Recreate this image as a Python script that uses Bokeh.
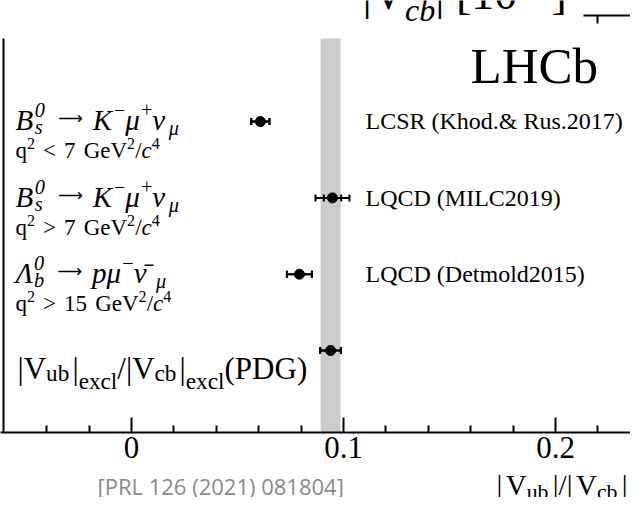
from bokeh.plotting import figure
from bokeh.layouts import column
from bokeh.models import (Range1d, FixedTicker, Label, BoxAnnotation,
                          Whisker, TeeHead, ColumnDataSource)
from bokeh.embed import file_html
from bokeh.resources import INLINE

# ---------------- data ----------------
rows = [4, 3, 2, 1]
ratio = [0.0608, 0.0948, 0.0792, 0.0939]
err_total = [0.0043, 0.0080, 0.0059, 0.0049]
err_stat = [0.0043, 0.0041, 0.0059, 0.0049]
theory = ["LCSR (Khod.& Rus.2017)", "LQCD (MILC2019)", "LQCD (Detmold2015)"]
q2_cut = ["<", ">", ">"]
q2_val = ["7", "7", "15"]
pdg_low = 0.0892
pdg_high = 0.0986
x_ticks = [0, 0.1, 0.2]
x_tick_labels = ["0", "0.1", "0.2"]
x_minor = [-0.04, -0.02, 0.02, 0.04, 0.06, 0.08, 0.12, 0.14, 0.16, 0.18, 0.22]

# ---------------- layout helpers (pixel <-> data) ----------------
X0, SX = 131.0, 2120.0       # px of x=0, px per unit
Y1, SY = 350.0, 76.3         # px of row 1, px per row
FRAME_BOTTOM = 432
MAIN_H = 472
TOTAL_H = 497
WIDTH = 630


def xd(px):
    return (px - X0) / SX


def yd(py):
    return 1 + (Y1 - py) / SY


SERIF = "Liberation Serif"
W = {' ': 250, '(': 333, ')': 333, '.': 250, '/': 278, '<': 564, '>': 564, '&': 778,
     '|': 200, '[': 333, ']': 333, '\u2212': 564, '+': 564, '-': 333,
     'A': 722, 'B': 667, 'C': 667, 'D': 722, 'E': 611, 'G': 722, 'H': 722, 'I': 333,
     'K': 722, 'L': 611, 'M': 889, 'P': 556, 'Q': 722, 'R': 667, 'S': 556, 'V': 722,
     'a': 444, 'b': 500, 'c': 444, 'd': 500, 'e': 444, 'h': 500, 'i': 278, 'k': 500,
     'l': 278, 'm': 778, 'n': 500, 'o': 500, 'p': 500, 'q': 500, 'r': 333, 's': 389,
     't': 278, 'u': 500, 'v': 500, 'x': 500, '\u03bc': 540, '\u03bd': 470, '\u039b': 640,
     '\u0304': 0}
for d in "0123456789":
    W[d] = 500

ASC = {SERIF: 0.3375, "Open Sans": 0.388, "DejaVu Sans": 0.36}


def tw(s):
    return sum(W.get(ch, 500) for ch in s) / 1000.0


class Canvas:
    def __init__(self, fig, fx, fy):
        self.fig, self.fx, self.fy = fig, fx, fy

    def put(self, x_px, base_px, text, size, italic=False, color="black", font=SERIF):
        cy = base_px - ASC.get(font, 0.34) * size
        self.fig.add_layout(Label(x=self.fx(x_px), y=self.fy(cy), text=text, text_font=font,
                                  text_font_size=f"{size:.1f}px",
                                  text_font_style="italic" if italic else "normal",
                                  text_color=color, text_baseline="middle", text_align="left"))

    def rich(self, parts, x_px, base_px, size, sub_ratio=0.7):
        x = x_px
        s2 = size * sub_ratio
        for part in parts:
            kind = part[0]
            if kind == "gap":
                x += part[1] * size
                continue
            text = part[1]
            it = part[2] if len(part) > 2 else False
            if kind == "n":
                self.put(x, base_px, text, size, it)
                x += tw(text) * size
            elif kind == "arrow":
                self.put(x, base_px - 0.17 * size, text, size * 0.6, False, font="DejaVu Sans")
                x += 1.0 * size
            elif kind == "sup":
                self.put(x, base_px - 0.42 * size, text, s2, it)
                x += tw(text) * s2
            elif kind == "sub":
                dy = part[3] if len(part) > 3 else 0.2
                self.put(x, base_px + dy * size, text, s2, it)
                x += tw(text) * s2
            elif kind == "ss":
                sup, sub = text
                self.put(x, base_px - 0.45 * size, sup, s2, it)
                self.put(x, base_px + 0.14 * size, sub, s2, it)
                x += max(tw(sup), tw(sub)) * s2
        return x


# ---------------- main figure ----------------
p = figure(width=WIDTH, height=MAIN_H, output_backend="svg", toolbar_location=None,
           x_range=Range1d(xd(0), xd(WIDTH)), y_range=Range1d(yd(FRAME_BOTTOM), yd(0)),
           min_border_left=0, min_border_right=0, min_border_top=0,
           min_border_bottom=MAIN_H - FRAME_BOTTOM)
p.outline_line_color = None
p.grid.visible = False
p.yaxis.visible = False
p.background_fill_color = "white"
p.border_fill_color = "white"

ax = p.xaxis[0]
ax.ticker = FixedTicker(ticks=x_ticks, minor_ticks=x_minor)
ax.major_label_overrides = {t: l for t, l in zip(x_ticks, x_tick_labels)}
ax.axis_line_width = 2
ax.major_tick_line_width = 2
ax.minor_tick_line_width = 2
ax.major_tick_in = 15
ax.major_tick_out = 0
ax.minor_tick_in = 7
ax.minor_tick_out = 0
ax.major_label_text_font = SERIF
ax.major_label_text_font_size = "31px"
ax.major_label_standoff = 4
ax.major_label_text_color = "black"

# PDG band and left frame line
p.add_layout(BoxAnnotation(left=pdg_low, right=pdg_high, top=yd(38), fill_color="#cbcbcb",
                           fill_alpha=1.0, line_color=None, level="underlay"))
p.add_layout(BoxAnnotation(left=xd(2), right=xd(4), top=yd(38), bottom=yd(FRAME_BOTTOM),
                           fill_color="black", fill_alpha=1.0, line_color=None))
# axis of the (cut) panel above
p.add_layout(BoxAnnotation(left=xd(583), right=xd(640), top=yd(14), bottom=yd(16),
                           fill_color="black", fill_alpha=1.0, line_color=None))
p.add_layout(BoxAnnotation(left=xd(596), right=xd(598), top=yd(15), bottom=yd(23),
                           fill_color="black", fill_alpha=1.0, line_color=None))

# data
src = ColumnDataSource(dict(y=rows, x=ratio,
                            lo_t=[v - e for v, e in zip(ratio, err_total)],
                            hi_t=[v + e for v, e in zip(ratio, err_total)],
                            lo_s=[v - e for v, e in zip(ratio, err_stat)],
                            hi_s=[v + e for v, e in zip(ratio, err_stat)]))
for lo, hi in (("lo_t", "hi_t"), ("lo_s", "hi_s")):
    p.add_layout(Whisker(source=src, base="y", lower=lo, upper=hi, dimension="width",
                         line_color="black", line_width=2,
                         lower_head=TeeHead(size=7, line_width=2, line_color="black"),
                         upper_head=TeeHead(size=7, line_width=2, line_color="black")))
p.scatter(x="x", y="y", source=src, size=10, color="black")

# ---------------- texts in main figure ----------------
cm = Canvas(p, xd, yd)
row_px = [121, 198, 274, 350]
MU, NU, LAM, ARR = "\u03bc", "\u03bd", "\u039b", "\u27f6"
decay_parts = [
    [("n", "B", True), ("ss", ("0", "s"), True), ("gap", 0.45), ("arrow", ARR), ("gap", 0.2),
     ("n", "K", True), ("sup", "\u2212"), ("n", MU, True), ("sup", "+"), ("n", NU, True),
     ("gap", 0.1), ("sub", MU, True)],
    [("n", "B", True), ("ss", ("0", "s"), True), ("gap", 0.45), ("arrow", ARR), ("gap", 0.2),
     ("n", "K", True), ("sup", "\u2212"), ("n", MU, True), ("sup", "+"), ("n", NU, True),
     ("gap", 0.1), ("sub", MU, True)],
    [("n", LAM, True), ("ss", ("0", "b"), True), ("gap", 0.45), ("arrow", ARR), ("gap", 0.2),
     ("n", "p", True), ("n", MU, True), ("sup", "\u2212"), ("n", NU + "\u0304", True),
     ("gap", 0.3), ("sub", MU, True)],
]
for i in range(3):
    cm.rich(decay_parts[i], 15, row_px[i] + 8, 29)
    cm.rich([("n", "q"), ("sup", "2"), ("gap", 0.35), ("n", q2_cut[i]), ("gap", 0.35),
             ("n", q2_val[i]), ("gap", 0.35), ("n", "GeV"), ("sup", "2"),
             ("n", "/"), ("n", "c", True), ("sup", "4")], 15, row_px[i] + 37, 23)
    cm.put(365, row_px[i] + 8, theory[i], 24)

pdg_parts = [("n", "|"), ("n", "V"), ("sub", "ub", False, 0.08), ("gap", 0.1), ("n", "|"),
             ("sub", "excl", False, 0.33), ("n", "/"), ("n", "|"), ("n", "V"),
             ("sub", "cb", False, 0.08), ("gap", 0.1), ("n", "|"), ("sub", "excl", False, 0.33),
             ("n", "(PDG)")]
cm.rich(pdg_parts, 17, 378, 31, sub_ratio=0.75)

cm.put(470, 83, "LHCb", 51)

# cut-off title of the panel above
cm.rich([("n", "|V"), ("sub", "cb", True, 0.24), ("n", "|"), ("gap", 0.25), ("n", "[10"),
         ("sup", "\u22123"), ("n", "]")], 362, 9, 46)

# ---------------- bottom strip ----------------
bot = figure(width=WIDTH, height=TOTAL_H - MAIN_H, output_backend="svg", toolbar_location=None,
             x_range=Range1d(0, WIDTH), y_range=Range1d(TOTAL_H, MAIN_H),
             x_axis_type=None, y_axis_type=None,
             min_border_left=0, min_border_right=0, min_border_top=0, min_border_bottom=0)
bot.outline_line_color = None
bot.grid.visible = False
bot.background_fill_color = "white"
bot.border_fill_color = "white"

cb = Canvas(bot, lambda v: v, lambda v: v)
cb.put(97, 494, "[PRL 126 (2021) 081804]", 22, color="#8a8a8a", font="Open Sans")
title_parts = [("n", "|"), ("gap", 0.12), ("n", "V"), ("sub", "ub", False, 0.16), ("gap", 0.15),
               ("n", "|"), ("n", "/"), ("n", "|"), ("gap", 0.12), ("n", "V"),
               ("sub", "cb", False, 0.16), ("gap", 0.15), ("n", "|")]
cb.rich(title_parts, 496, 494, 29, sub_ratio=0.75)

layout = column(p, bot, spacing=0)
open("out.html", "w").write(file_html(layout, INLINE))
